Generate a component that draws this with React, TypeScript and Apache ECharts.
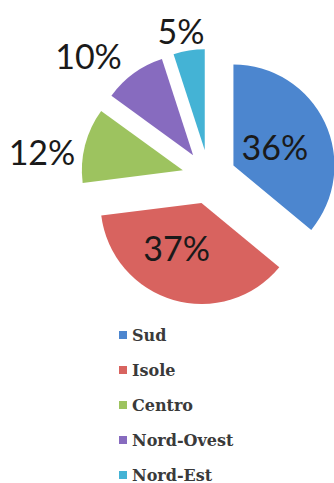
import React, { useEffect, useRef } from "react";
import * as echarts from "echarts";

const categories = ["Sud", "Isole", "Centro", "Nord-Ovest", "Nord-Est"];
const values = [36, 37, 12, 10, 5];
const colors = ["#4C86CF", "#D8635F", "#9DC35F", "#876BBF", "#44B3D5"];
const labelPositions = ["inside", "inside", "outside", "outside", "outside"];
const labelShift = [
  [-7, 4],
  [-10, -7],
  [5, 9],
  [-1, -10],
  [22, -10],
];

export default function App() {
  const ref = useRef<HTMLDivElement>(null);
  useEffect(() => {
    if (!ref.current) return;
    const chart = echarts.init(ref.current, undefined, { renderer: "svg" });
    chart.setOption({
      animation: false,
      backgroundColor: "#ffffff",
      legend: {
        orient: "vertical",
        left: 119,
        top: 327,
        height: 170,
        padding: 0,
        itemWidth: 8,
        itemHeight: 8,
        itemGap: 19,
        icon: "rect",
        selectedMode: false,
        data: categories,
        textStyle: {
          fontFamily: "DejaVu Serif",
          fontWeight: "bold",
          fontSize: 16,
          lineHeight: 16,
          color: "#3a3a3a",
        },
      },
      series: [
        {
          type: "pie",
          center: [209, 177],
          radius: [0, 101],
          startAngle: 90,
          clockwise: true,
          selectedMode: "multiple",
          selectedOffset: 27,
          avoidLabelOverlap: false,
          emphasis: { disabled: true },
          select: { itemStyle: { borderWidth: 0 } },
          itemStyle: { borderWidth: 0 },
          label: {
            formatter: "{c}%",
            fontFamily: "Lato",
            fontSize: 34,
            color: "#1a1a1a",
          },
          labelLine: { show: false, length: 10, length2: 0 },
          labelLayout: (p: any) => ({
            dx: labelShift[p.dataIndex][0],
            dy: labelShift[p.dataIndex][1],
          }),
          data: categories.map((name, i) => ({
            name,
            value: values[i],
            selected: true,
            itemStyle: { color: colors[i] },
            label: { position: labelPositions[i] },
          })),
        },
      ],
    });
    return () => chart.dispose();
  }, []);
  return (
    <div
      ref={ref}
      style={{ position: "fixed", left: 0, top: 0, width: 334, height: 483 }}
    />
  );
}
